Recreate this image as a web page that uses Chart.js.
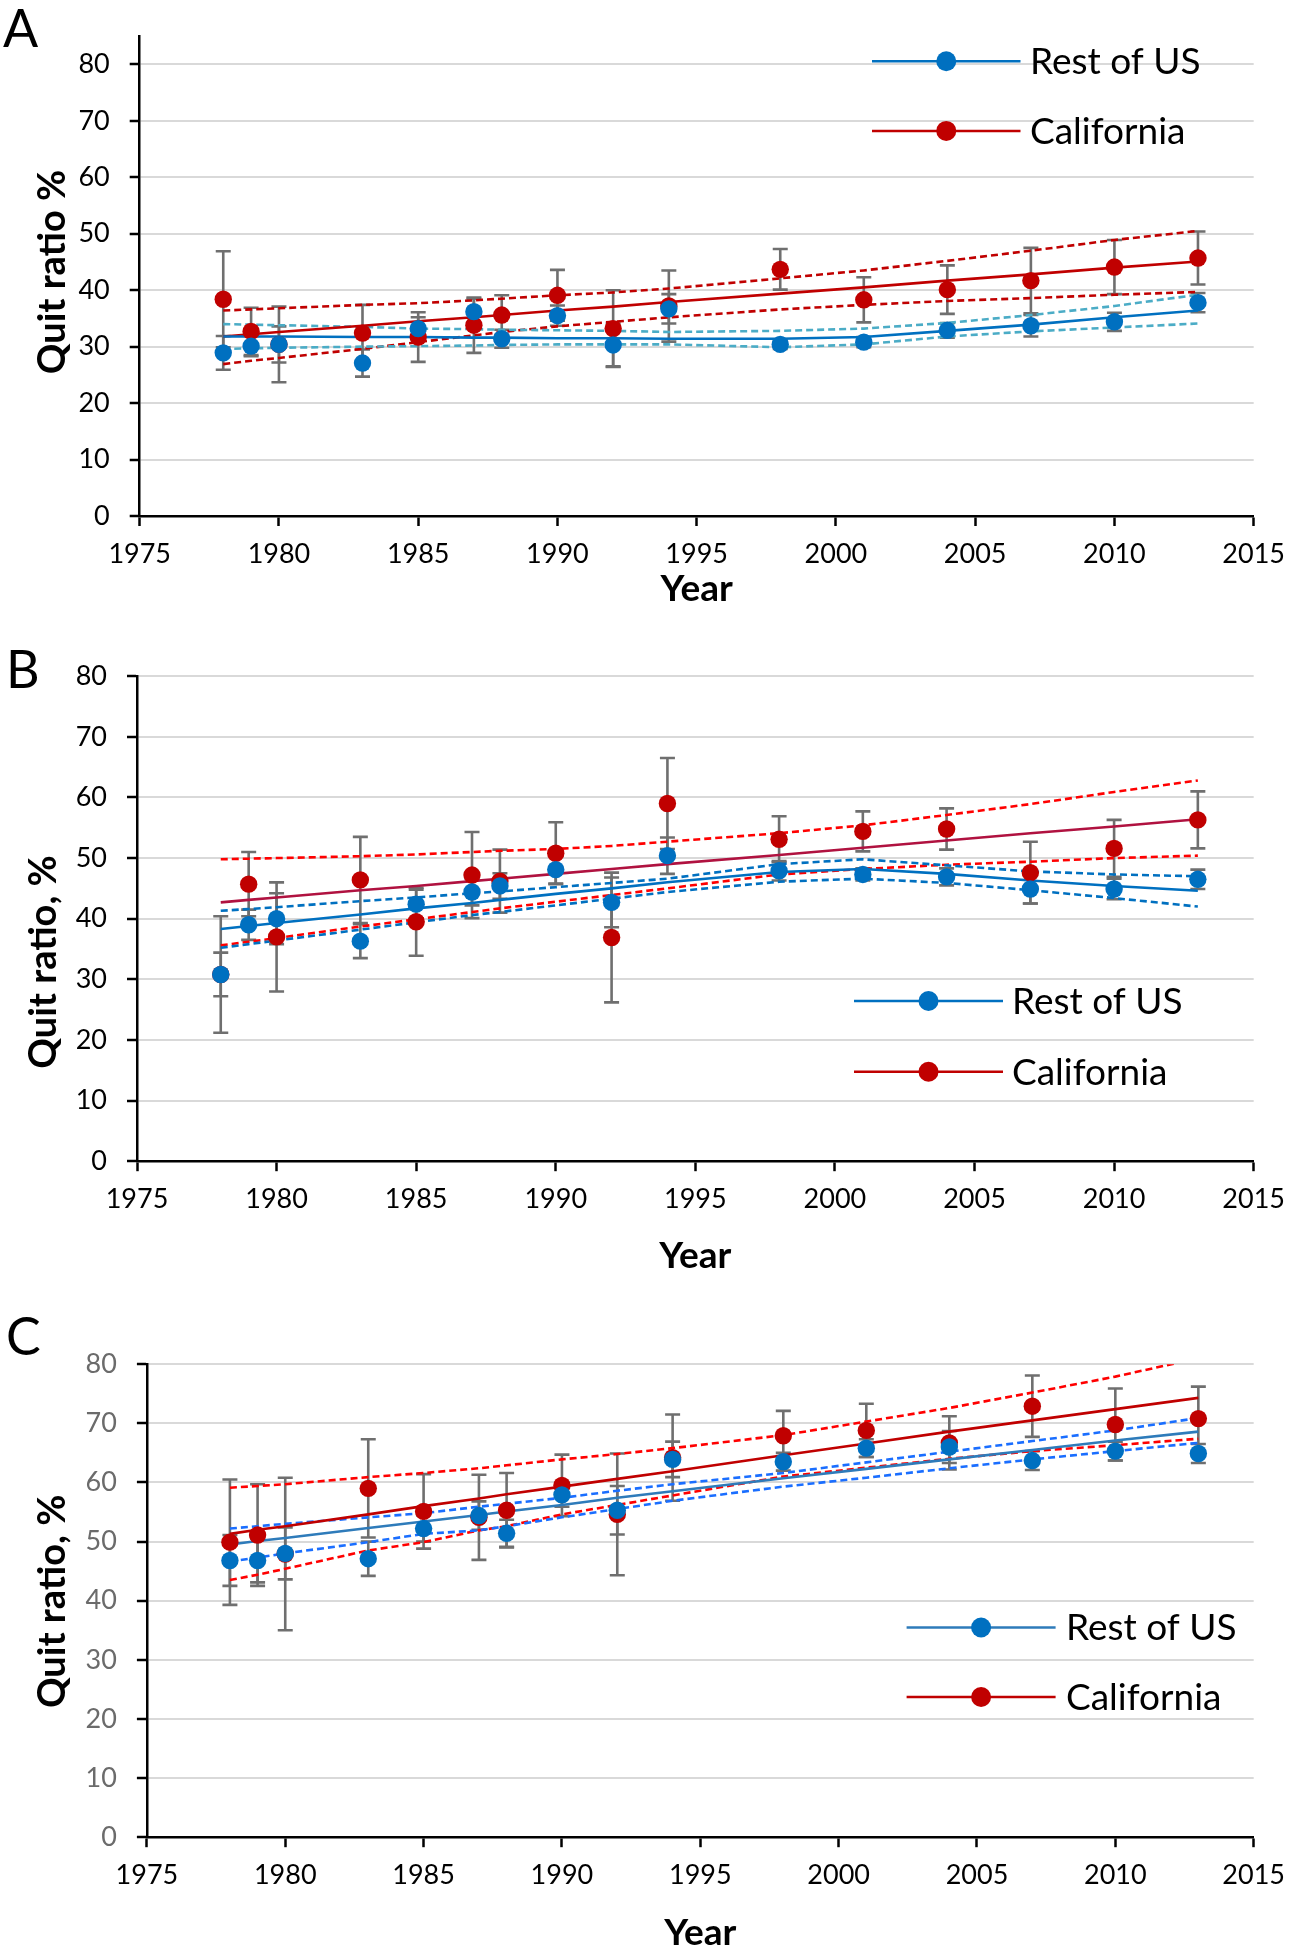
<!DOCTYPE html>
<html><head><meta charset="utf-8">
<script src="https://cdn.jsdelivr.net/npm/chart.js@4/dist/chart.umd.min.js"></script>
<style>
html,body{margin:0;padding:0;background:#fff;width:1297px;height:1950px;overflow:hidden}
canvas{position:absolute;left:0}
</style></head><body>
<canvas id="cA" width="1297" height="620" style="top:0px"></canvas>
<canvas id="cB" width="1297" height="640" style="top:640px"></canvas>
<canvas id="cC" width="1297" height="655" style="top:1295px"></canvas>
<script>
// ---------- data ----------
const years = [1978,1979,1980,1983,1985,1987,1988,1990,1992,1994,1998,2001,2004,2007,2010,2013];
const xTicks = [1975,1980,1985,1990,1995,2000,2005,2010,2015];
const xTickLabels = ['1975','1980','1985','1990','1995','2000','2005','2010','2015'];
const yTicks = [0,10,20,30,40,50,60,70,80];
const yTickLabels = ['0','10','20','30','40','50','60','70','80'];
const seriesNames = ['Rest of US','California'];

// Panel A
const usA    = [28.9,30.1,30.4,27.1,33.2,36.2,31.4,35.5,30.3,36.7,30.4,30.8,32.9,33.7,34.4,37.8];
const caA    = [38.4,32.7,30.4,32.4,31.7,33.8,35.6,39.1,33.2,37.2,43.7,38.3,40.1,41.7,44.1,45.7];
const usErrA = [3.0,1.8,3.2,2.4,2.0,2.3,1.6,1.8,3.8,2.6,0.8,0.9,1.3,1.9,1.6,1.7];
const caErrA = [8.5,4.2,6.7,5.0,4.4,4.9,3.5,4.5,6.8,6.3,3.6,4.0,4.3,5.8,4.8,4.7];
const usFitA = [31.8,31.8,31.8,31.7,31.7,31.6,31.6,31.5,31.5,31.4,31.4,31.7,32.8,33.9,35.2,36.4];
const usHiA  = [34.0,33.9,33.8,33.5,33.2,33.1,33.0,32.9,32.8,32.6,32.8,33.2,34.2,35.6,37.2,39.2];
const usLoA  = [29.6,29.7,29.8,30.0,30.1,30.2,30.3,30.4,30.4,30.4,29.9,30.4,31.8,32.7,33.4,34.1];
const caFitA = [31.8,32.2,32.6,33.7,34.5,35.2,35.6,36.4,37.1,37.9,39.4,40.5,41.7,42.8,44.0,45.1];
const caHiA  = [36.4,36.6,36.8,37.4,37.7,38.2,38.5,39.1,39.6,40.3,42.1,43.5,45.2,47.0,48.9,50.5];
const caLoA  = [26.9,27.5,28.0,29.6,30.8,32.0,32.6,33.6,34.4,35.2,36.6,37.4,38.1,38.6,39.2,39.7];

// Panel B
const usB    = [30.8,39.0,40.0,36.3,42.4,44.4,45.4,48.1,42.7,50.4,47.9,47.3,46.9,44.9,44.9,46.5];
const caB    = [30.8,45.7,37.0,46.4,39.5,47.2,46.2,50.8,36.9,59.0,53.1,54.4,54.8,47.6,51.6,56.3];
const usErrB = [3.6,2.5,4.2,2.8,2.4,2.2,2.1,2.3,4.1,3.0,1.6,1.0,1.4,2.4,1.7,1.6];
const caErrB = [9.6,5.3,9.0,7.1,5.6,7.1,5.2,5.1,10.7,7.5,3.8,3.3,3.4,5.1,4.7,4.7];
const usFitB = [38.3,38.8,39.3,40.7,41.7,42.6,43.1,44.1,45.0,46.0,47.7,48.2,47.4,46.3,45.4,44.6];
const usHiB  = [41.3,41.6,41.9,42.9,43.5,44.2,44.5,45.2,45.9,46.6,49.0,49.8,48.8,47.8,47.3,47.0];
const usLoB  = [35.2,35.8,36.4,38.2,39.4,40.6,41.1,42.2,43.3,44.4,46.1,46.6,45.9,44.7,43.4,42.0];
const caFitB = [42.7,43.1,43.5,44.7,45.4,46.2,46.6,47.4,48.2,49.0,50.5,51.7,52.9,54.1,55.2,56.4];
const caHiB  = [49.8,49.9,50.0,50.3,50.6,51.0,51.2,51.5,52.0,52.7,54.1,55.4,57.1,58.9,60.9,62.8];
const caLoB  = [35.6,36.2,36.8,38.7,39.9,41.1,41.7,42.8,43.9,45.0,47.3,48.2,48.9,49.4,50.0,50.4];

// Panel C
const usC    = [46.8,46.8,48.0,47.1,52.2,54.4,51.4,57.9,55.3,63.9,63.5,65.8,66.0,63.7,65.3,64.9];
const caC    = [49.9,51.1,47.9,59.0,55.1,54.1,55.3,59.5,54.6,64.2,67.9,68.8,66.7,72.9,69.8,70.8];
const usErrC = [4.3,3.7,4.4,2.9,2.2,2.4,2.3,2.0,4.1,3.0,1.5,1.5,2.7,1.6,1.6,1.6];
const caErrC = [10.6,8.6,12.9,8.3,6.3,7.2,6.3,5.2,10.3,7.3,4.2,4.5,4.5,5.2,6.1,5.4];
const usFitC = [49.5,50.1,50.6,52.3,53.4,54.5,55.1,56.2,57.4,58.5,60.7,62.3,63.9,65.5,67.1,68.6];
const usHiC  = [52.2,52.6,53.0,54.1,54.8,55.9,56.4,57.4,58.6,59.7,61.6,63.4,65.2,67.0,68.8,70.9];
const usLoC  = [46.6,47.3,48.0,49.9,51.3,51.9,52.6,54.1,55.5,56.9,59.3,60.8,62.4,63.9,65.3,66.7];
const caFitC = [51.3,52.0,52.6,54.6,56.0,57.3,58.0,59.3,60.6,61.9,64.6,66.6,68.6,70.5,72.4,74.3];
const caHiC  = [59.1,59.4,59.7,60.9,61.6,62.4,62.9,63.9,64.8,65.8,68.0,70.3,72.6,75.2,77.9,81.0];
const caLoC  = [43.5,44.4,45.4,48.5,49.9,51.9,52.6,54.6,56.2,57.8,61.0,62.5,64.0,65.3,66.3,67.4];

// ---------- helpers ----------
const FONT = 'Lato';
const pts = vals => years.map((x, i) => ({x, y: vals[i]}));
function lineDS(vals, color, dashed) {
  return {type: 'line', data: pts(vals), borderColor: color, borderWidth: 2.6,
    borderDash: dashed ? [7, 4] : [], pointRadius: 0, pointHoverRadius: 0,
    fill: false, tension: 0, order: dashed ? 6 : 5};
}
function dotDS(vals, color, order) {
  return {type: 'scatter', data: pts(vals), backgroundColor: color, borderWidth: 0,
    pointRadius: 8.7, pointHoverRadius: 8.7, order};
}

function makePanel(id, P) {
  const errPlugin = {
    id: 'errbars' + id,
    beforeDatasetsDraw(chart) {
      const {ctx, scales: {x, y}} = chart;
      ctx.save();
      ctx.strokeStyle = '#6f6f6f';
      ctx.lineWidth = 2.6;
      ctx.lineCap = 'butt';
      P.errors.forEach(s => {
        years.forEach((yr, i) => {
          const px = x.getPixelForValue(yr);
          const t = y.getPixelForValue(s.v[i] + s.e[i]);
          const b = y.getPixelForValue(s.v[i] - s.e[i]);
          ctx.beginPath();
          ctx.moveTo(px, t); ctx.lineTo(px, b);
          ctx.moveTo(px - 7.5, t); ctx.lineTo(px + 7.5, t);
          ctx.moveTo(px - 7.5, b); ctx.lineTo(px + 7.5, b);
          ctx.stroke();
        });
      });
      ctx.restore();
    }
  };
  const annotPlugin = {
    id: 'annot' + id,
    afterDraw(chart) {
      const {ctx, chartArea} = chart;
      ctx.save();
      ctx.fillStyle = '#000';
      // panel letter
      ctx.font = '52px ' + FONT;
      ctx.textAlign = 'left'; ctx.textBaseline = 'alphabetic';
      ctx.fillText(P.letter, P.letterX, P.letterY);
      // x title
      ctx.font = 'bold 37px ' + FONT;
      ctx.textAlign = 'center';
      ctx.fillText('Year', (chartArea.left + chartArea.right) / 2, P.xTitleY);
      // y title
      ctx.save();
      ctx.translate(P.yTitleX, P.yTitleCY);
      ctx.rotate(-Math.PI / 2);
      ctx.font = 'bold 38px ' + FONT;
      ctx.textAlign = 'center'; ctx.textBaseline = 'alphabetic';
      ctx.fillText(P.yTitle, 0, 0);
      ctx.restore();
      // legend
      P.legend.rows.forEach((r, k) => {
        ctx.strokeStyle = r.color; ctx.lineWidth = 2.5;
        ctx.beginPath();
        ctx.moveTo(P.legend.x1, r.y); ctx.lineTo(P.legend.x2, r.y);
        ctx.stroke();
        ctx.fillStyle = r.dot;
        ctx.beginPath();
        ctx.arc((P.legend.x1 + P.legend.x2) / 2, r.y, 10, 0, Math.PI * 2);
        ctx.fill();
        ctx.fillStyle = '#000';
        ctx.font = '37px ' + FONT;
        ctx.textAlign = 'left'; ctx.textBaseline = 'middle';
        ctx.fillText(seriesNames[k], P.legend.tx, r.y + 1);
      });
      ctx.restore();
    }
  };
  return new Chart(document.getElementById(id), {
    type: 'scatter',
    data: {datasets: P.datasets},
    options: {
      responsive: false, animation: false, events: [],
      layout: {padding: {left: 0, right: 1297 - P.right, top: P.top, bottom: 0}},
      plugins: {legend: {display: false}, tooltip: {enabled: false}},
      scales: {
        x: {
          type: 'linear', min: 1975, max: 2015,
          afterBuildTicks: s => { s.ticks = xTicks.map(v => ({value: v})); },
          afterFit: s => { s.height = P.H - P.bottom; },
          ticks: {font: {family: FONT, size: 27}, color: '#000', padding: 12,
            maxRotation: 0, autoSkip: false,
            callback: v => xTickLabels[xTicks.indexOf(v)]},
          grid: {drawOnChartArea: false, drawTicks: true, tickLength: 10,
            tickColor: '#000', tickWidth: 2.5},
          border: {display: true, color: '#000', width: 2.5}
        },
        y: {
          type: 'linear', min: 0, max: P.ymax,
          afterBuildTicks: s => { s.ticks = yTicks.map(v => ({value: v})); },
          afterFit: s => { s.width = P.left; },
          ticks: {font: {family: FONT, size: 27}, color: P.yTickColor, padding: 20,
            callback: v => yTickLabels[yTicks.indexOf(v)]},
          grid: {color: c => (c.tick && c.tick.value === 0) ? 'rgba(0,0,0,0)' : '#d9d9d9',
            lineWidth: 2, drawTicks: true, tickLength: 10, tickColor: '#000', tickWidth: 2.5},
          border: {display: true, color: '#000', width: 2.5}
        }
      }
    },
    plugins: [errPlugin, annotPlugin]
  });
}

function build() {
  makePanel('cA', {
    H: 620, left: 139.7, right: 1262.3, top: 10.5, bottom: 516, ymax: 85, yTickColor: '#000',
    letter: 'A', letterX: 3, letterY: 47, yTitle: 'Quit ratio %', yTitleX: 64.5, yTitleCY: 272,
    xTitleY: 601,
    legend: {x1: 872, x2: 1020.5, tx: 1030, rows: [
      {y: 61.3, color: '#0070C0', dot: '#0070C0'}, {y: 130.9, color: '#C00000', dot: '#C00000'}]},
    errors: [{v: caA, e: caErrA}, {v: usA, e: usErrA}],
    datasets: [
      dotDS(usA, '#0070C0', 0), dotDS(caA, '#C00000', 1),
      lineDS(usFitA, '#0070C0', false), lineDS(usHiA, '#4BACC6', true), lineDS(usLoA, '#4BACC6', true),
      lineDS(caFitA, '#C00000', false), lineDS(caHiA, '#C00000', true), lineDS(caLoA, '#C00000', true)
    ]
  });
  makePanel('cB', {
    H: 640, left: 137, right: 1254.5, top: 34.3, bottom: 521.2, ymax: 80, yTickColor: '#000',
    letter: 'B', letterX: 6, letterY: 48, yTitle: 'Quit ratio, %', yTitleX: 55.6, yTitleCY: 322,
    xTitleY: 628,
    legend: {x1: 854, x2: 1003, tx: 1012, rows: [
      {y: 361, color: '#0070C0', dot: '#0070C0'}, {y: 431.7, color: '#C00000', dot: '#C00000'}]},
    errors: [{v: caB, e: caErrB}, {v: usB, e: usErrB}],
    datasets: [
      dotDS(usB, '#0070C0', 0), dotDS(caB, '#C00000', 1),
      lineDS(usFitB, '#0070C0', false), lineDS(usHiB, '#0070C0', true), lineDS(usLoB, '#0070C0', true),
      lineDS(caFitB, '#B01240', false), lineDS(caHiB, '#FF0000', true), lineDS(caLoB, '#FF0000', true)
    ]
  });
  makePanel('cC', {
    H: 655, left: 146.9, right: 1254.5, top: 69.2, bottom: 542.2, ymax: 80, yTickColor: '#6b6b6b',
    letter: 'C', letterX: 6, letterY: 60, yTitle: 'Quit ratio, %', yTitleX: 64.5, yTitleCY: 306.4,
    xTitleY: 649.5,
    legend: {x1: 906.6, x2: 1055.6, tx: 1066, rows: [
      {y: 332.5, color: '#2E7BBA', dot: '#0070C0'}, {y: 402, color: '#C00000', dot: '#C00000'}]},
    errors: [{v: caC, e: caErrC}, {v: usC, e: usErrC}],
    datasets: [
      dotDS(usC, '#0070C0', 0), dotDS(caC, '#C00000', 1),
      lineDS(usFitC, '#2E7BBA', false), lineDS(usHiC, '#1A6EFF', true), lineDS(usLoC, '#1A6EFF', true),
      lineDS(caFitC, '#C00000', false), lineDS(caHiC, '#FF0000', true), lineDS(caLoC, '#FF0000', true)
    ]
  });
}

const fontsReady = Promise.all([
  document.fonts.load('27px Lato'), document.fonts.load('bold 37px Lato')
]).catch(() => {});
Promise.race([fontsReady, new Promise(r => setTimeout(r, 800))]).then(build);
</script>
</body></html>
